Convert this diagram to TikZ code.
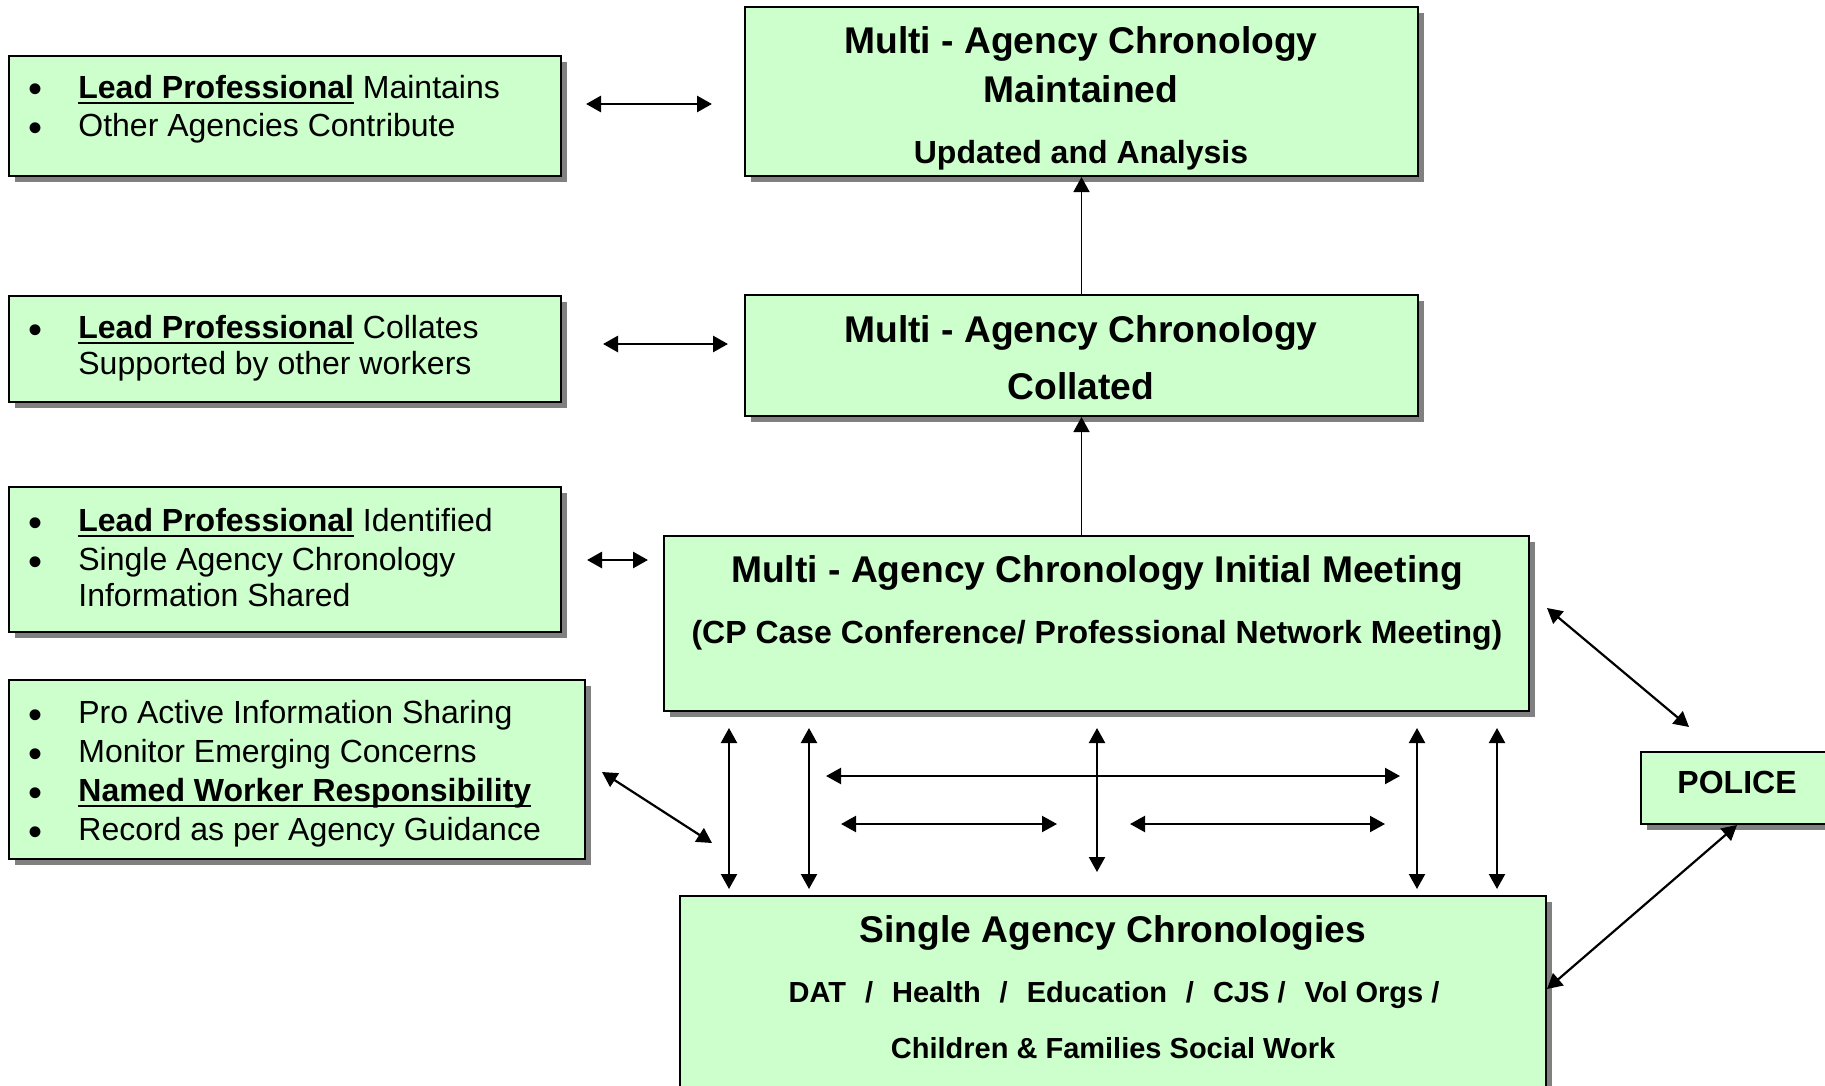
\documentclass[tikz,border=0pt]{standalone}
\usepackage{fontspec}
\setmainfont{Liberation Sans}
\usetikzlibrary{arrows.meta,fit,shadows}
\definecolor{ChronGreen}{HTML}{CCFFCC}
\definecolor{ChronShadow}{HTML}{808080}
% bold text with a heavy underline
\newsavebox{\undlbox}
\newcommand{\undl}[1]{\sbox{\undlbox}{\bfseries #1}\rlap{\rule[-3.1pt]{\wd\undlbox}{1.3pt}}\usebox{\undlbox}}
\newcommand{\leadpro}{\undl{Lead Professional}}
\newcommand{\sep}{\hspace{9.5pt}/\hspace{9.5pt}}

\tikzset{
  chronbox/.style={draw=black,line width=1pt,fill=ChronGreen,inner sep=0pt,
    drop shadow={shadow xshift=3pt,shadow yshift=-3pt,fill=ChronShadow,opacity=1}},
  headtext/.style={anchor=base,inner sep=0pt,font=\fontsize{18.6}{22}\selectfont\bfseries},
  subtext/.style={anchor=base,inner sep=0pt,font=\fontsize{16}{19}\selectfont\bfseries},
  agencytext/.style={anchor=base,inner sep=0pt,font=\fontsize{14.5}{17}\selectfont\bfseries},
  listtext/.style={anchor=base west,inner sep=0pt,font=\fontsize{16}{19}\selectfont},
  dot/.style={anchor=base,inner sep=0pt,font=\fontsize{20}{20}\selectfont},
  tip/.tip={Triangle[length=7.5pt,width=8pt]},
  bothway/.style={tip-tip,line width=1.1pt},
  upway/.style={-tip,line width=0.75pt},
}

\begin{document}
\begin{tikzpicture}[x=0.5pt,y=-0.5pt]
\useasboundingbox (0,0) rectangle (1825,1086);

% boxes, corners in px
\node[chronbox,fit={(9,56) (561,176)}] (lpMaint) {};
\node[chronbox,fit={(745,7) (1418,176)}] (maint) {};
\node[chronbox,fit={(9,296) (561,402)}] (lpColl) {};
\node[chronbox,fit={(745,295) (1418,416)}] (coll) {};
\node[chronbox,fit={(9,487) (561,632)}] (lpIdent) {};
\node[chronbox,fit={(664,536) (1529,711)}] (meeting) {};
\node[chronbox,fit={(9,680) (585,859)}] (sharing) {};
\node[chronbox,fit={(680,896) (1546,1120)}] (single) {};
\node[chronbox,fit={(1641,752) (1833,824)}] (police) {};

% centre column
\node[headtext] (maint-1) at (1081,54) {Multi - Agency Chronology};
\node[headtext] (maint-2) at (1081,103) {Maintained};
\node[subtext] (maint-3) at (1081,163) {Updated and Analysis};
\node[headtext] (coll-1) at (1081,342) {Multi - Agency Chronology};
\node[headtext] (coll-2) at (1081,399) {Collated};
\node[headtext] (meeting-1) at (1097,582) {Multi - Agency Chronology Initial Meeting};
\node[subtext] (meeting-2) at (1097,643) {(CP Case Conference/ Professional Network Meeting)};
\node[headtext] (single-1) at (1113,942) {Single Agency Chronologies};
\node[agencytext] (single-2) at (1114,1002) {DAT\sep Health\sep Education\sep CJS /\hspace{9.5pt}Vol Orgs /};
\node[agencytext] (single-3) at (1113,1058) {Children \& Families Social Work};
\node[subtext] (police-1) at (1737,793) {POLICE};

% left column notes
\foreach \y [count=\i] in {98,136,338,531,570,723,762,801,840}
  \node[dot] (dot-\i) at (36,\y+5) {\textbullet};
\foreach \y/\txt [count=\i] in {98/{\leadpro{} Maintains},136/{Other Agencies Contribute}}
  \node[listtext] (lpMaint-\i) at (78,\y) {\txt};
\foreach \y/\txt [count=\i] in {338/{\leadpro{} Collates},374/{Supported by other workers}}
  \node[listtext] (lpColl-\i) at (78,\y) {\txt};
\foreach \y/\txt [count=\i] in {531/{\leadpro{} Identified},570/{Single Agency Chronology},606/{Information Shared}}
  \node[listtext] (lpIdent-\i) at (78,\y) {\txt};
\foreach \y/\txt [count=\i] in {723/{Pro Active Information Sharing},762/{Monitor Emerging Concerns},
    801/{\undl{Named Worker Responsibility}},840/{Record as per Agency Guidance}}
  \node[listtext] (sharing-\i) at (78,\y) {\txt};

% links up the centre
\draw[upway] (coll.north) -- (maint.south);
\draw[upway] (meeting.north -| coll.south) -- (coll.south);

% links from the notes
\coordinate (mA) at (586,104); \coordinate (mB) at (712,104);
\coordinate (cA) at (603,344); \coordinate (cB) at (728,344);
\coordinate (iA) at (587,560); \coordinate (iB) at (648,560);
\coordinate (sA) at (602,772); \coordinate (sB) at (712,843);
\draw[bothway,line width=1.4pt] (mA) -- (mB);
\draw[bothway,line width=1.4pt] (cA) -- (cB);
\draw[bothway,line width=1.4pt] (iA) -- (iB);
\draw[bothway] (sA) -- (sB);

% meeting <-> single agencies
\foreach \x/\n in {729/a,809/b,1417/c,1497/d}{
  \coordinate (top-\n) at (\x,728);
  \coordinate (bot-\n) at (\x,889);
  \draw[bothway] (top-\n) -- (bot-\n);
}
\coordinate (top-m) at (1097,728); \coordinate (bot-m) at (1097,872);
\draw[bothway] (top-m) -- (bot-m);
\coordinate (hL) at (826,776); \coordinate (hR) at (1400,776);
\draw[bothway] (hL) -- (hR);
\coordinate (lL) at (841,824); \coordinate (lR) at (1057,824);
\coordinate (rL) at (1130,824); \coordinate (rR) at (1385,824);
\draw[bothway] (lL) -- (lR);
\draw[bothway] (rL) -- (rR);

% police
\coordinate (pA) at (1547,608); \coordinate (pB) at (1689,727);
\coordinate (pC) at (1547,989);
\draw[bothway] (pA) -- (pB);
\draw[bothway] (police.south) -- (pC);
\end{tikzpicture}
\end{document}
